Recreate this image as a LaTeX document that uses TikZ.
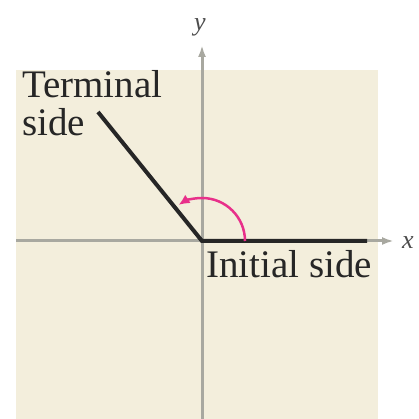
\documentclass[tikz,border=0pt]{standalone}
\usepackage{fontspec}
\setmainfont{Liberation Serif}
\usetikzlibrary{arrows.meta,calc}
\definecolor{bgbeige}{HTML}{F3EEDC}
\definecolor{axisgray}{HTML}{A8A8A0}
\definecolor{arcmag}{HTML}{E8308A}
\tikzset{
  axisline/.style={draw=axisgray, line width=3pt, -{Latex[length=12pt,width=8pt]}},
  sideline/.style={draw=black!85, line width=4pt},
  anglearc/.style={draw=arcmag, line width=2.5pt, -{Latex[length=11pt,width=10pt]}},
  lbl/.style={inner sep=0pt, text=black!85, font=\fontsize{39}{41}\selectfont},
  axlbl/.style={inner sep=0pt, font=\fontsize{26}{28}\selectfont\itshape, text=black!70}
}
\begin{document}
\begin{tikzpicture}[x=1pt,y=1pt]
\useasboundingbox (0,0) rectangle (418,419);
\fill[bgbeige] (16,0) rectangle (378,349);
\coordinate (O) at (202,178);
\coordinate (ybot) at (202,0);
\coordinate (ytop) at (202,374);
\coordinate (xleft) at (16,178);
\coordinate (xright) at (394,178);
\coordinate (T) at (98,307);
\coordinate (I) at (367,178);
\draw[axisline] (ybot) -- (ytop);
\draw[axisline] (xleft) -- (xright);
\draw[sideline] (T) -- (O) -- (I);
\draw[anglearc] ($(O)+(43,0)$) arc[start angle=0, end angle=123, radius=43];
\node[lbl, anchor=base west] (term) at (22,321) {Terminal};
\node[lbl, anchor=base west] (side) at (22,283) {side};
\node[lbl, anchor=base west] (init) at (206,141) {Initial side};
\node[axlbl] (ylab) at (200,392) {y};
\node[axlbl, anchor=west] (xlab) at (402,176) {x};
\end{tikzpicture}
\end{document}
